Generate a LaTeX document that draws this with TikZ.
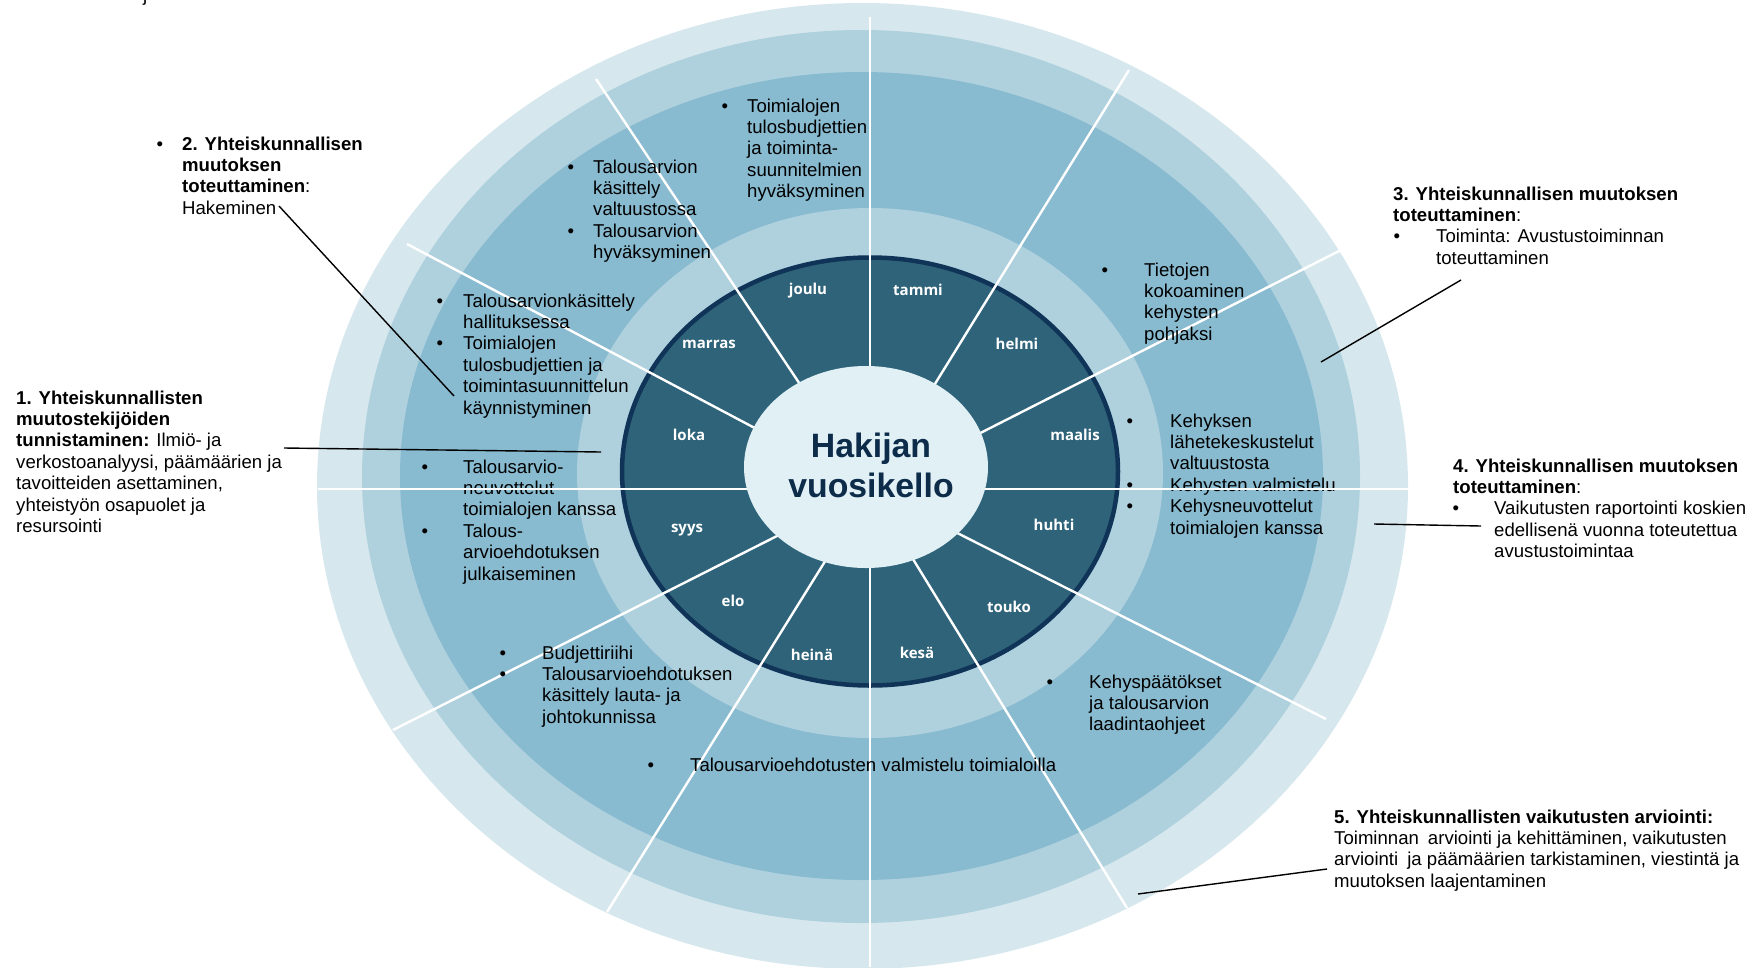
\documentclass[tikz,border=0pt]{standalone}
\usepackage{fontspec}
\setmainfont{Liberation Sans}
\newfontfamily\mfont{Open Sans}
\definecolor{cOuter}{HTML}{D6E8EE}
\definecolor{cLight}{HTML}{AFD1DE}
\definecolor{cMid}{HTML}{88BAD0}
\definecolor{cMonth}{HTML}{2F6379}
\definecolor{cNavy}{HTML}{0F3457}
\definecolor{cCenter}{HTML}{E0F0F5}
\definecolor{cTitle}{HTML}{0D2C4A}
\newcommand\blk[1]{\begin{tabular}[t]{@{}l@{}}#1\end{tabular}}
\newcommand\bu[1]{\llap{\textbullet\hspace{#1pt}}}
\begin{document}
\begin{tikzpicture}[x=1pt,y=-1pt,
  txt/.style={anchor=base west, inner sep=0pt, font=\fontsize{18.6}{21.4}\selectfont},
  mon/.style={inner sep=0pt, text=white, text height=11pt, text depth=3pt, font=\mfont\bfseries\fontsize{15}{18}\selectfont},
  spoke/.style={draw=white, line width=2.4pt},
  conn/.style={draw=black, line width=1.4pt}]
\useasboundingbox (0,0) rectangle (1762,967);
\fill[white] (0,0) rectangle (1762,967);
% rings
\fill[cOuter] (862.5,486) ellipse [x radius=545.5pt, y radius=483pt];
\fill[cLight] (861,476.5) ellipse [x radius=499pt, y radius=446.5pt];
\fill[cMid] (861.5,476) ellipse [x radius=461.5pt, y radius=404pt];
\fill[cLight] (870,473) ellipse [x radius=293pt, y radius=265pt];
\filldraw[fill=cMonth, draw=cNavy, line width=4.5pt] (870,471.5) ellipse [x radius=248pt, y radius=214pt];
% spokes
\coordinate (C) at (870,489);
\coordinate (s30) at (1343,249);
\coordinate (s60) at (1129,70);
\coordinate (s90) at (870,17);
\coordinate (s120) at (596,79);
\coordinate (s150) at (407,244);
\coordinate (s210) at (393,730);
\coordinate (s240) at (607,912);
\coordinate (s270) at (870,967);
\coordinate (s300) at (1127,908);
\coordinate (s330) at (1326,719);
\foreach \s in {s30,s60,s90,s120,s150,s210,s240,s270,s300,s330}
  \draw[spoke] (\s) -- (C);
% center
\fill[cCenter] (866,467) ellipse [x radius=122pt, y radius=101pt];
\node[anchor=base, inner sep=0pt, text=cTitle, font=\fontsize{33.8}{40}\selectfont\bfseries] (title) at (871,457)
  {\begin{tabular}[t]{@{}c@{}}Hakijan\\vuosikello\end{tabular}};
% months
\node[mon] (m1) at (918,291) {tammi};
\node[mon] (m2) at (1017,345) {helmi};
\node[mon] (m3) at (1075,436) {maalis};
\node[mon] (m4) at (1054,526) {huhti};
\node[mon] (m5) at (1009,608) {touko};
\node[mon] (m6) at (917,654) {kesä};
\node[mon] (m7) at (812,656) {heinä};
\node[mon] (m8) at (733,602) {elo};
\node[mon] (m9) at (687,528) {syys};
\node[mon] (m10) at (689,436) {loka};
\node[mon] (m11) at (709,344) {marras};
\node[mon] (m12) at (808,290) {joulu};
% in-ring texts
\node[txt] (tA) at (747,112) {\blk{\bu{19}Toimialojen\\tulosbudjettien\\ja toiminta-\\suunnitelmien\\hyväksyminen}};
\node[txt] (tB) at (593,173) {\blk{\bu{19}Talousarvion\\käsittely\\valtuustossa\\\bu{19}Talousarvion\\hyväksyminen}};
\node[txt] (tC) at (463,307) {\blk{\bu{20}Talousarvionkäsittely\\hallituksessa\\\bu{20}Toimialojen\\tulosbudjettien ja\\toimintasuunnittelun\\käynnistyminen}};
\node[txt] (tD) at (463,473) {\blk{\bu{35}Talousarvio-\\neuvottelut\\toimialojen kanssa\\\bu{35}Talous-\\arvioehdotuksen\\julkaiseminen}};
\node[txt] (tE) at (542,659) {\blk{\bu{36}Budjettiriihi\\\bu{36}Talousarvioehdotuksen\\käsittely lauta- ja\\johtokunnissa}};
\node[txt] (tF) at (690,771) {\blk{\bu{36}Talousarvioehdotusten valmistelu toimialoilla}};
\node[txt] (tG) at (1089,688) {\blk{\bu{36}Kehyspäätökset\\ja talousarvion\\laadintaohjeet}};
\node[txt] (tH) at (1170,427) {\blk{\bu{37}Kehyksen\\lähetekeskustelut\\valtuustosta\\\bu{37}Kehysten valmistelu\\\bu{37}Kehysneuvottelut\\toimialojen kanssa}};
\node[txt] (tI) at (1144,276) {\blk{\bu{36}Tietojen\\kokoaminen\\kehysten\\pohjaksi}};
% horizontal spokes (over the text)
\coordinate (hL) at (318,489);
\coordinate (hLi) at (747,489);
\coordinate (hR) at (1410,489);
\coordinate (hRi) at (985,489);
\draw[spoke] (hL) -- (hLi);
\draw[spoke] (hRi) -- (hR);
% outer labels
\node[txt] (jfrag) at (143,1) {j};
\node[txt] (L1) at (16,404) {\blk{\textbf{1. Yhteiskunnallisten}\\\textbf{muutostekijöiden}\\\textbf{tunnistaminen:} Ilmiö- ja\\verkostoanalyysi, päämäärien ja\\tavoitteiden asettaminen,\\yhteistyön osapuolet ja\\resursointi}};
\node[txt] (L2) at (182,150) {\blk{\bu{19}\textbf{2. Yhteiskunnallisen}\\\textbf{muutoksen}\\\textbf{toteuttaminen}:\\Hakeminen}};
\node[txt] (L3) at (1393,200) {\blk{\textbf{3. Yhteiskunnallisen muutoksen}\\\textbf{toteuttaminen}:\\\hspace*{43pt}\bu{36}Toiminta: Avustustoiminnan\\\hspace*{43pt}toteuttaminen}};
\node[txt] (L4) at (1453,472) {\blk{\textbf{4. Yhteiskunnallisen muutoksen}\\\textbf{toteuttaminen}:\\\hspace*{41pt}\bu{35}Vaikutusten raportointi koskien\\\hspace*{41pt}edellisenä vuonna toteutettua\\\hspace*{41pt}avustustoimintaa}};
\node[txt] (L5) at (1334,823) {\blk{\textbf{5. Yhteiskunnallisten vaikutusten arviointi:}\\Toiminnan\hspace{9pt}arviointi ja kehittäminen, vaikutusten\\arviointi\hspace{9pt}ja päämäärien tarkistaminen, viestintä ja\\muutoksen laajentaminen}};
% connectors
\coordinate (c1a) at (284,448); \coordinate (c1b) at (601,452);
\coordinate (c2a) at (279,206); \coordinate (c2b) at (454,396);
\coordinate (c3a) at (1461,280); \coordinate (c3b) at (1321,362);
\coordinate (c4a) at (1374,524); \coordinate (c4b) at (1481,526);
\coordinate (c5a) at (1138,894); \coordinate (c5b) at (1327,869);
\draw[conn] (c1a) -- (c1b);
\draw[conn] (c2a) -- (c2b);
\draw[conn] (c3a) -- (c3b);
\draw[conn] (c4a) -- (c4b);
\draw[conn] (c5a) -- (c5b);
\end{tikzpicture}
\end{document}
